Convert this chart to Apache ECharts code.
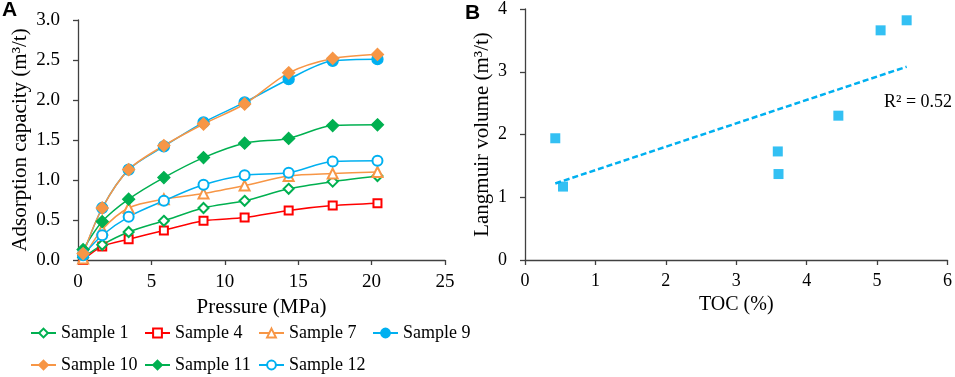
<!DOCTYPE html>
<html>
<head>
<meta charset="utf-8">
<script src="https://cdn.jsdelivr.net/npm/echarts@6/dist/echarts.min.js"></script>
<style>
  html, body { margin: 0; padding: 0; background: #fff; }
  #chart { width: 955px; height: 377px; }
</style>
</head>
<body>
<div id="chart"></div>
<script>
// panel A: adsorption isotherms
const pressure = [0.35, 1.65, 3.45, 5.85, 8.55, 11.35, 14.35, 17.35, 20.4];
const sample1 = [0.03, 0.19, 0.35, 0.49, 0.65, 0.74, 0.89, 0.98, 1.05];
const sample4 = [0.0, 0.17, 0.26, 0.37, 0.49, 0.53, 0.62, 0.68, 0.71];
const sample7 = [0.02, 0.38, 0.65, 0.76, 0.83, 0.93, 1.05, 1.08, 1.10];
const sample9 = [0.07, 0.65, 1.13, 1.42, 1.72, 1.97, 2.26, 2.49, 2.51];
const sample10 = [0.08, 0.65, 1.13, 1.43, 1.70, 1.95, 2.34, 2.52, 2.57];
const sample11 = [0.13, 0.48, 0.76, 1.03, 1.28, 1.46, 1.52, 1.68, 1.69];
const sample12 = [0.06, 0.31, 0.54, 0.74, 0.94, 1.06, 1.09, 1.23, 1.24];

// legend layout order (two rows)
const legendRow1 = ['Sample 1', 'Sample 4', 'Sample 7', 'Sample 9'];
const legendRow2 = ['Sample 10', 'Sample 11', 'Sample 12'];

// panel B: Langmuir volume vs TOC
const toc = [0.43, 0.54, 3.59, 3.60, 4.45, 5.05, 5.42];
const langmuir = [1.94, 1.17, 1.73, 1.37, 2.30, 3.66, 3.82];
const trendX = [0.43, 5.42];
const trendY = [1.22, 3.08];

const GREEN = '#00B050', RED = '#FF0000', ORANGE = '#F79646', BLUE = '#00B0F0';
const SERIF = '"Liberation Serif", "Times New Roman", serif';
const AXIS_COLOR = '#404040';

const chart = echarts.init(document.getElementById('chart'));

const zip = (xs, ys) => xs.map((x, i) => [x, ys[i]]);

const lineSeries = (name, values, color, symbol, size) => ({
  name: name,
  type: 'line',
  xAxisIndex: 0,
  yAxisIndex: 0,
  data: zip(pressure, values),
  smooth: 0.3,
  symbol: symbol,
  symbolSize: size,
  showAllSymbol: true,
  lineStyle: { color: color, width: 1.5 },
  itemStyle: { color: color, borderColor: color, borderWidth: 1.3 },
  emphasis: { disabled: true },
  z: 3
});

const axisCommon = {
  axisLine: { show: true, lineStyle: { color: AXIS_COLOR, width: 1.3 } },
  axisTick: { show: true, length: 5, lineStyle: { color: AXIS_COLOR, width: 1.3 } },
  splitLine: { show: false },
  axisLabel: { fontFamily: SERIF, fontSize: 19, color: '#000' },
  nameTextStyle: { fontFamily: SERIF, fontSize: 20, color: '#000' },
  nameLocation: 'middle'
};

// one legend per item so the two rows line up in fixed columns
const legendItems = [];
legendRow1.forEach((name, i) => legendItems.push({ name: name, col: i, row: 0 }));
legendRow2.forEach((name, i) => legendItems.push({ name: name, col: i, row: 1 }));

const legends = legendItems.map(it => ({
  left: 30 + it.col * 114,
  top: 324 + it.row * 32,
  padding: 0,
  itemWidth: 25,
  itemHeight: 11,
  data: [it.name],
  textStyle: { fontFamily: SERIF, fontSize: 18, color: '#000' }
}));

const option = {
  backgroundColor: '#fff',
  animation: false,
  grid: [
    { left: 78, right: 510, top: 20, bottom: 117 },
    { left: 525, right: 2, top: 6, bottom: 117 }
  ],
  xAxis: [
    Object.assign({}, axisCommon, {
      gridIndex: 0, type: 'value', min: 0, max: 25, interval: 5,
      name: 'Pressure (MPa)', nameGap: 37,
      nameTextStyle: Object.assign({}, axisCommon.nameTextStyle, { fontSize: 21 }),
      axisLabel: Object.assign({}, axisCommon.axisLabel, { margin: 13 })
    }),
    Object.assign({}, axisCommon, {
      gridIndex: 1, type: 'value', min: 0, max: 6, interval: 1,
      name: 'TOC (%)', nameGap: 30,
      axisLabel: Object.assign({}, axisCommon.axisLabel, { fontSize: 18, margin: 12 })
    })
  ],
  yAxis: [
    Object.assign({}, axisCommon, {
      gridIndex: 0, type: 'value', min: 0, max: 3, interval: 0.5,
      name: 'Adsorption capacity (m³/t)', nameGap: 47,
      nameTextStyle: Object.assign({}, axisCommon.nameTextStyle, { fontSize: 21 }),
      axisLabel: Object.assign({}, axisCommon.axisLabel, {
        margin: 18,
        formatter: v => v.toFixed(1)
      })
    }),
    Object.assign({}, axisCommon, {
      gridIndex: 1, type: 'value', min: 0, max: 4, interval: 1,
      name: 'Langmuir volume (m³/t)', nameGap: 32,
      nameTextStyle: Object.assign({}, axisCommon.nameTextStyle, { fontSize: 21 }),
      axisLabel: Object.assign({}, axisCommon.axisLabel, { fontSize: 18, margin: 18 })
    })
  ],
  legend: legends,
  graphic: [
    { type: 'text', left: 2, top: 0, style: { text: 'A', font: 'bold 21px "Liberation Sans", Arial, sans-serif', fill: '#000' } },
    { type: 'text', left: 465, top: 3, style: { text: 'B', font: 'bold 21px "Liberation Sans", Arial, sans-serif', fill: '#000' } },
    { type: 'text', left: 884, top: 93, style: { text: 'R² = 0.52', font: '18px ' + SERIF, fill: '#000' } }
  ],
  series: [
    lineSeries('Sample 4', sample4, RED, 'emptyRect', 8),
    lineSeries('Sample 1', sample1, GREEN, 'emptyDiamond', 10),
    lineSeries('Sample 7', sample7, ORANGE, 'emptyTriangle', 10),
    lineSeries('Sample 12', sample12, BLUE, 'emptyCircle', 10),
    lineSeries('Sample 11', sample11, GREEN, 'diamond', 12),
    lineSeries('Sample 9', sample9, BLUE, 'circle', 11),
    lineSeries('Sample 10', sample10, ORANGE, 'diamond', 12),
    {
      name: 'Trend',
      type: 'line',
      xAxisIndex: 1,
      yAxisIndex: 1,
      data: zip(trendX, trendY),
      symbol: 'none',
      lineStyle: { color: BLUE, width: 2.5, type: [6, 3] },
      emphasis: { disabled: true },
      z: 2
    },
    {
      name: 'Langmuir',
      type: 'scatter',
      xAxisIndex: 1,
      yAxisIndex: 1,
      data: zip(toc, langmuir),
      symbol: 'rect',
      symbolSize: 10,
      itemStyle: { color: BLUE },
      emphasis: { disabled: true },
      z: 3
    }
  ]
};

chart.setOption(option);
window.addEventListener('resize', () => chart.resize());
</script>
</body>
</html>
